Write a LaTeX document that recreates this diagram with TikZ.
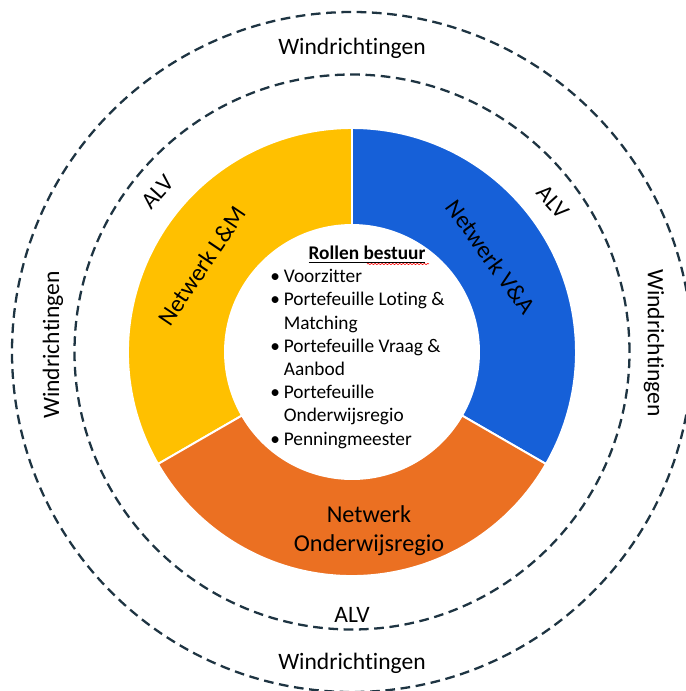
\documentclass[tikz,border=0pt]{standalone}
\usepackage{fontspec}
\setmainfont{Carlito}[Ligatures={NoCommon}]
\usepackage{tikz}
\usetikzlibrary{positioning, decorations.pathmorphing}
\definecolor{geel}{RGB}{255,192,0}
\definecolor{blauw}{RGB}{22,96,216}
\definecolor{oranje}{RGB}{235,112,34}
\definecolor{streep}{RGB}{30,52,66}
\newcommand{\blt}{\makebox[0.27cm][l]{\textbullet}}
\newcommand{\inspr}{\hspace*{0.27cm}}

\begin{document}
\begin{tikzpicture}[
			every node/.style={
				inner sep=0pt,
				align=center
			},
			ring/.style={draw=streep, line width=1.3pt, dash pattern=on 5.5pt off 3.2pt},
			segm/.style={draw=white, line width=1.1pt},
			windtekst/.style={font=\fontsize{13.4}{16}\selectfont},
			netwerk/.style={font=\fontsize{13.8}{16.5}\selectfont},
			lijst/.style={font=\fontsize{11}{13.2}\selectfont, align=left}
			]
			\clip (-7.04,-6.78) rectangle (6.68,7.04);
			
			% Dashed rings
			\draw[ring] (0,0) circle[radius=6.8];
			\draw[ring] (0,0) circle[radius=5.55];
			
			% Donut - three segments
			\filldraw[segm, fill=geel] (90:2.54) arc[start angle=90, end angle=210, radius=2.54]
				-- (210:4.48) arc[start angle=210, end angle=90, radius=4.48] -- cycle;
			\filldraw[segm, fill=blauw] (-30:2.54) arc[start angle=-30, end angle=90, radius=2.54]
				-- (90:4.48) arc[start angle=90, end angle=-30, radius=4.48] -- cycle;
			\filldraw[segm, fill=oranje] (210:2.54) arc[start angle=210, end angle=330, radius=2.54]
				-- (330:4.48) arc[start angle=330, end angle=210, radius=4.48] -- cycle;
			
			% Outer ring labels
			\node[windtekst] (WN) at (0,6.08) {Windrichtingen};
			\node[windtekst] (WZ) at (0,-6.22) {Windrichtingen};
			\node[windtekst, rotate=90] (WW) at (-5.98,0.14) {Windrichtingen};
			\node[windtekst, rotate=-90] (WO) at (6.04,0.18) {Windrichtingen};
			
			% Inner ring labels
			\node[windtekst, rotate=48] (A1) at (-3.88,3.20) {ALV};
			\node[windtekst, rotate=-48] (A2) at (4.02,3.00) {ALV};
			\node[windtekst] (A3) at (0,-5.26) {ALV};
			
			% Segment labels
			\node[netwerk, rotate=56] (LM) at (-3.00,1.72) {Netwerk L\&M};
			\node[netwerk, rotate=-54] (VA) at (2.78,1.90) {Netwerk V\&A};
			\node[netwerk] (OR) at (0.34,-3.58) {Netwerk\\Onderwijsregio};
			
			% Centre text
			\node[lijst] (titel) at (0.30,1.94) {\underline{\textbf{Rollen bestuur}}};
			\draw[red, line width=0.35pt, decorate, decoration={snake, amplitude=0.35pt, segment length=2pt}]
				(0.30,1.76) -- (1.54,1.76);
			\node[lijst, anchor=north west] (rollen) at (-1.64,1.66) {%
				\blt Voorzitter\\
				\blt Portefeuille Loting \&\\
				\inspr Matching\\
				\blt Portefeuille Vraag \&\\
				\inspr Aanbod\\
				\blt Portefeuille\\
				\inspr Onderwijsregio\\
				\blt Penningmeester};
			
		\end{tikzpicture}
\end{document}
